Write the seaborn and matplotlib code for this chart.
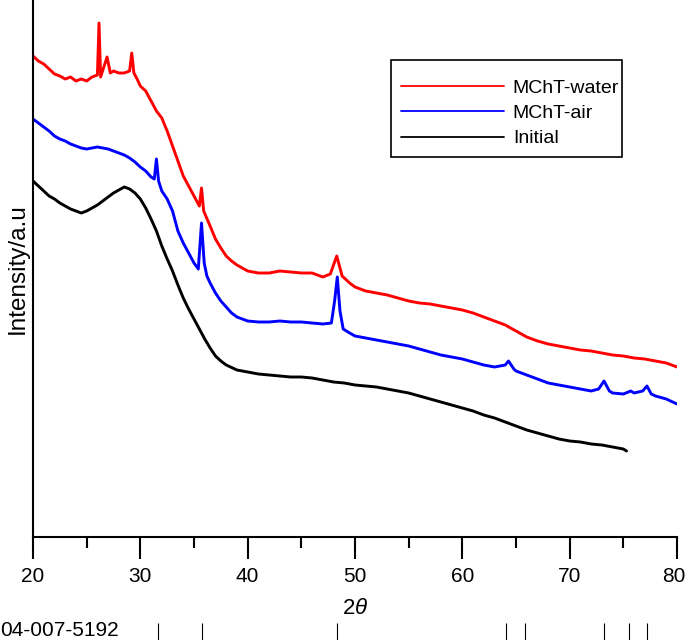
import numpy as np
import pandas as pd
import matplotlib
matplotlib.use("Agg")
import matplotlib.pyplot as plt
import matplotlib.transforms as mtransforms
from matplotlib.patches import Rectangle
from matplotlib.lines import Line2D
import seaborn as sns

# ---------------- data (intensity in a.u.) ----------------
water_2theta = [20.0, 20.5, 21.0, 21.5, 22.0, 22.5, 23.0, 23.5, 24.0, 24.5, 25.0, 25.5, 26.0, 26.15, 26.3,
                26.9, 27.2, 27.5, 28.0, 28.5, 29.0, 29.2, 29.4, 29.7, 30.0, 30.5, 31.0, 31.5, 32.0, 32.5,
                33.0, 33.5, 34.0, 34.5, 35.0, 35.5, 35.7, 35.9, 36.5, 37.0, 37.5, 38.0, 38.5, 39.0, 40.0,
                41.0, 42.0, 43.0, 44.0, 45.0, 46.0, 47.0, 47.7, 48.3, 48.8, 49.5, 50.0, 51.0, 52.0, 53.0,
                54.0, 55.0, 56.0, 57.0, 58.0, 59.0, 60.0, 61.0, 62.0, 63.0, 64.0, 65.0, 66.0, 67.0, 68.0,
                69.0, 70.0, 71.0, 72.0, 73.0, 74.0, 75.0, 76.0, 77.0, 78.0, 79.0, 80.0]
water_int = [481, 476, 473, 468, 463, 461, 458, 460, 456, 458, 456, 460, 462, 514, 460,
             480, 464, 466, 464, 464, 466, 484, 464, 458, 451, 446, 436, 426, 419, 406,
             391, 376, 361, 351, 341, 331, 349, 326, 311, 298, 289, 281, 276, 272, 266,
             264, 264, 266, 265, 264, 264, 260, 263, 281, 261, 254, 250, 246, 244, 242,
             239, 236, 234, 233, 231, 229, 227, 224, 220, 216, 212, 206, 200, 196, 193,
             191, 189, 187, 186, 184, 182, 181, 179, 178, 176, 174, 170]

air_2theta = [20.0, 20.5, 21.0, 21.5, 22.0, 22.5, 23.0, 23.5, 24.0, 24.5, 25.0, 25.5, 26.0, 26.5, 27.0,
              27.5, 28.0, 28.5, 29.0, 29.5, 30.0, 30.5, 31.0, 31.3, 31.5, 31.7, 32.0, 32.5, 33.0, 33.5,
              34.0, 34.5, 35.0, 35.4, 35.7, 35.95, 36.2, 36.5, 37.0, 37.5, 38.0, 38.5, 39.0, 40.0, 41.0,
              42.0, 43.0, 44.0, 45.0, 46.0, 47.0, 47.8, 48.1, 48.35, 48.6, 48.9, 49.5, 50.0, 51.0, 52.0,
              53.0, 54.0, 55.0, 56.0, 57.0, 58.0, 59.0, 60.0, 61.0, 62.0, 63.0, 64.0, 64.3, 64.8, 65.0,
              66.0, 67.0, 68.0, 69.0, 70.0, 71.0, 72.0, 72.7, 73.2, 73.7, 74.0, 75.0, 75.7, 76.0, 76.8,
              77.2, 77.6, 78.0, 79.0, 80.0]
air_int = [418, 414, 410, 406, 401, 398, 396, 393, 391, 389, 388, 389, 390, 389, 388,
           386, 384, 382, 379, 375, 370, 366, 360, 358, 378, 356, 346, 338, 326, 306,
           294, 284, 274, 268, 314, 274, 261, 254, 244, 236, 230, 224, 220, 216, 215,
           215, 216, 215, 215, 214, 213, 214, 236, 260, 226, 208, 204, 201, 199, 197,
           195, 193, 191, 188, 185, 182, 180, 178, 175, 172, 170, 172, 176, 168, 166,
           162, 158, 154, 152, 150, 148, 146, 148, 156, 146, 144, 143, 146, 144, 146,
           151, 143, 141, 138, 133]

init_2theta = [20.0, 20.5, 21.0, 21.5, 22.0, 22.5, 23.0, 23.5, 24.0, 24.5, 25.0, 25.5, 26.0, 26.5, 27.0,
               27.5, 28.0, 28.5, 29.0, 29.5, 30.0, 30.5, 31.0, 31.5, 32.0, 32.5, 33.0, 33.5, 34.0, 34.5,
               35.0, 35.5, 36.0, 36.5, 37.0, 37.5, 38.0, 39.0, 40.0, 41.0, 42.0, 43.0, 44.0, 45.0, 46.0,
               47.0, 48.0, 49.0, 50.0, 51.0, 52.0, 53.0, 54.0, 55.0, 56.0, 57.0, 58.0, 59.0, 60.0, 61.0,
               62.0, 63.0, 64.0, 65.0, 66.0, 67.0, 68.0, 69.0, 70.0, 71.0, 72.0, 73.0, 74.0, 75.0, 75.3]
init_int = [356, 351, 346, 341, 338, 334, 331, 328, 326, 324, 326, 329, 332, 336, 340,
            344, 347, 350, 348, 344, 338, 329, 318, 306, 291, 278, 266, 252, 239, 228,
            218, 208, 198, 189, 181, 176, 172, 167, 165, 163, 162, 161, 160, 160, 159,
            157, 155, 154, 152, 151, 150, 148, 146, 144, 141, 138, 135, 132, 129, 126,
            122, 119, 115, 111, 107, 104, 101, 98, 96, 95, 93, 92, 90, 88, 86]

series_names = ["MChT-water", "MChT-air", "Initial"]
series_colors = ["#ff0000", "#0000ff", "#000000"]

# reference pattern card 04-007-5192
card_label = "04-007-5192"
card_peaks = [31.6, 35.7, 48.3, 64.1, 65.8, 73.2, 75.5, 77.2]

x_ticks = [20, 30, 40, 50, 60, 70, 80]

# ---------------- build long-form table ----------------
df = pd.concat([
    pd.DataFrame({"two_theta": water_2theta, "intensity": water_int, "series": series_names[0]}),
    pd.DataFrame({"two_theta": air_2theta, "intensity": air_int, "series": series_names[1]}),
    pd.DataFrame({"two_theta": init_2theta, "intensity": init_int, "series": series_names[2]}),
], ignore_index=True)

sns.set_theme(style="white")
plt.rcParams["font.family"] = ["Liberation Sans", "DejaVu Sans"]
plt.rcParams["mathtext.fontset"] = "custom"
plt.rcParams["mathtext.rm"] = "Liberation Sans"
plt.rcParams["mathtext.it"] = "Liberation Sans:italic"
plt.rcParams["text.color"] = "black"
plt.rcParams["axes.labelcolor"] = "black"
plt.rcParams["xtick.color"] = "black"
plt.rcParams["ytick.color"] = "black"

W, H = 685, 644
fig = plt.figure(figsize=(W / 100, H / 100), dpi=100)
ax = fig.add_axes([33 / W, (H - 537) / H, (677 - 33) / W, 537 / H])

sns.lineplot(data=df, x="two_theta", y="intensity", hue="series",
             palette=dict(zip(series_names, series_colors)), hue_order=series_names,
             estimator=None, sort=False, linewidth=2.1, ax=ax, legend=False)

ax.set_xlim(20, 80)
ax.set_ylim(0, 537)
ax.set_xticks(x_ticks)
ax.set_xticks(np.arange(25, 80, 10), minor=True)
ax.set_yticks([])
ax.tick_params(axis="x", which="major", direction="out", length=16, width=1.5,
               labelsize=15, pad=5.5, colors="black", bottom=True)
ax.tick_params(axis="x", which="minor", direction="out", length=8, width=1.5,
               colors="black", bottom=True)
# keep the last tick label inside the canvas
last = ax.get_xticklabels()[-1]
last.set_transform(last.get_transform() + mtransforms.ScaledTranslation(-3 / 100, 0, fig.dpi_scale_trans))
for side in ["top", "right"]:
    ax.spines[side].set_visible(False)
for side in ["left", "bottom"]:
    ax.spines[side].set_color("black")
    ax.spines[side].set_linewidth(1.5)
ax.set_xlabel(r"2$\it{\theta}$", fontsize=16, labelpad=8.5, color="black")
ax.set_ylabel("Intensity/a.u", fontsize=17.5, labelpad=3, color="black")

# legend: frame drawn as a rectangle, entries placed inside
x0, x1 = (391 - 33) / 644, (622 - 33) / 644
y0, y1 = (537 - 157) / 537, (537 - 60) / 537
ax.add_patch(Rectangle((x0, y0), x1 - x0, y1 - y0, transform=ax.transAxes,
                       fill=False, edgecolor="black", linewidth=1.2, zorder=5))
handles = [Line2D([], [], color=c, lw=1.3) for c in series_colors]
leg = ax.legend(handles, series_names, loc="upper left",
                bbox_to_anchor=((401 - 33) / 644, (537 - 79) / 537), borderaxespad=0,
                fontsize=14, frameon=False, borderpad=0, labelcolor="black",
                handlelength=5.3, handletextpad=0.45, labelspacing=0.4)

# reference card stick pattern strip
ax2 = fig.add_axes([33 / W, (H - 640) / H, (677 - 33) / W, 17 / H])
ax2.vlines(card_peaks, 0, 1, color="black", linewidth=0.8)
ax2.set_xlim(20, 80)
ax2.set_ylim(0, 1)
ax2.axis("off")
fig.text(0.0, (H - 631) / H, card_label, fontsize=15, va="center", ha="left", color="black")

fig.savefig("out.png", dpi=100)
